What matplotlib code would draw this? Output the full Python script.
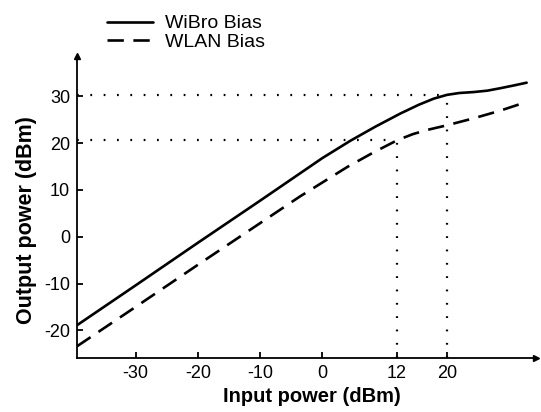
import matplotlib.pyplot as plt
import numpy as np

plt.rcParams["font.family"] = ["Liberation Sans", "DejaVu Sans"]
plt.rcParams["axes.unicode_minus"] = False

# values (dBm)
wibro_in = [-39.4, -30, -20, -10, 0, 4.5, 8.5, 12.5, 15.5, 17.9, 20, 22, 24.3,
            26.5, 28.5, 30.7, 32.8]
wibro_out = [-18.9, -10.4, -1.3, 7.7, 16.8, 20.5, 23.5, 26.3, 28.2, 29.5, 30.3,
             30.7, 30.9, 31.2, 31.7, 32.3, 32.9]
wlan_in = [-39.4, -30, -20, -10, -3.6, 4, 8.2, 12, 14.5, 16.8, 20, 24.3, 28.5, 32.8]
wlan_out = [-23.4, -15.0, -6.0, 2.9, 8.6, 14.9, 18.0, 20.6, 21.9, 22.8, 23.8, 25.3,
            26.9, 28.8]

x_ticks = [-30, -20, -10, 0, 12, 20]
y_ticks = [-20, -10, 0, 10, 20, 30]
marks_in = [12, 20]       # dotted guides: input level
marks_out = [20.6, 30.3]  # where the guides meet the curves

x_lim = (-39.4, 34.3)
y_lim = (-25.9, 38.6)

fig = plt.figure(figsize=(5.41, 4.12), dpi=100)
ax = fig.add_axes([77 / 541, 54 / 412, 459 / 541, 302 / 412])

ax.plot(wibro_in, wibro_out, color="black", lw=1.9, label="WiBro Bias",
        solid_capstyle="round")
(dash,) = ax.plot(wlan_in, wlan_out, color="black", lw=1.9, label="WLAN Bias")
dash.set_dashes([6.2, 3.6])

dot = (0, (0.8, 5.2))
for xm, ym in zip(marks_in, marks_out):
    ax.plot([x_lim[0], xm], [ym, ym], color="black", lw=1.6, linestyle=dot)
    ax.plot([xm, xm], [y_lim[0], ym], color="black", lw=1.6, linestyle=dot)

ax.set_xlim(*x_lim)
ax.set_ylim(*y_lim)
ax.set_xticks(x_ticks)
ax.set_yticks(y_ticks)
ax.tick_params(direction="in", length=4, width=1.3, labelsize=13, pad=5)

for side in ("top", "right"):
    ax.spines[side].set_visible(False)
for side in ("left", "bottom"):
    ax.spines[side].set_linewidth(1.3)

# arrow heads on the axes
ax.plot(1, 0, ">k", ms=5, transform=ax.transAxes, clip_on=False)
ax.plot(0, 1, "^k", ms=5, transform=ax.transAxes, clip_on=False)

ax.set_xlabel("Input power (dBm)", fontsize=14.5, fontweight="bold")
ax.set_ylabel("Output power (dBm)", fontsize=15.5, fontweight="bold")
ax.xaxis.set_label_coords((312 - 77) / 459, -(396 - 358) / 302)
ax.yaxis.set_label_coords(-(77 - 27) / 459, (358 - 220) / 302)
ax.xaxis.label.set_va("center")
ax.yaxis.label.set_va("center")

ax.legend(loc="upper left", bbox_to_anchor=(97 / 541, 1 - 5 / 412),
          bbox_transform=fig.transFigure, frameon=False, fontsize=14,
          handlelength=2.4, handletextpad=0.6, labelspacing=0.05, borderpad=0)

fig.savefig("out.png", dpi=100)
